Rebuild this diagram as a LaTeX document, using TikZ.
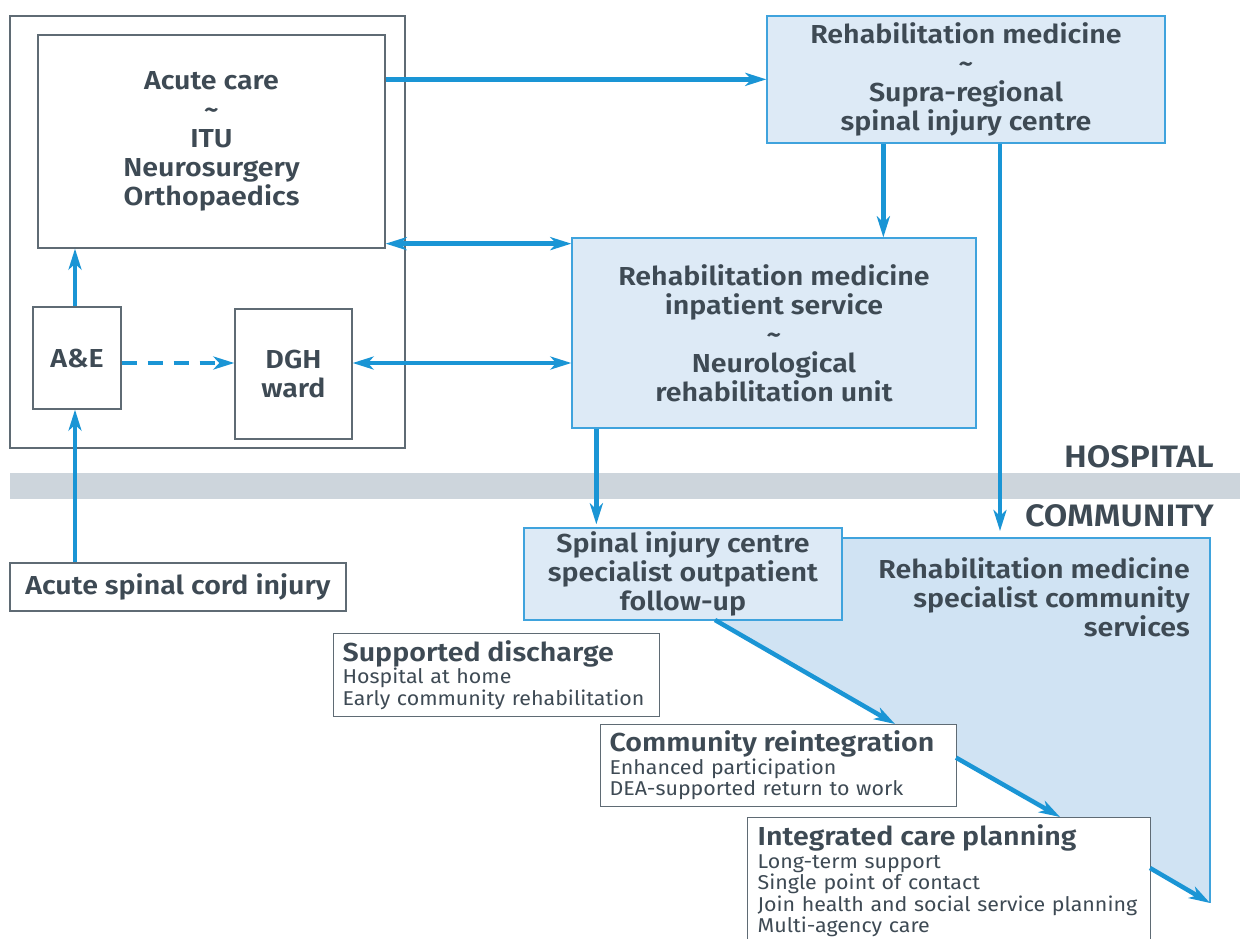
\documentclass[tikz,border=0pt]{standalone}
\usepackage{fontspec}
\setmainfont{Fira Sans}[BoldFont={* SemiBold}, FakeStretch=1.1]
\newfontfamily\listfont{Fira Sans}[FakeStretch=1.07]
\usetikzlibrary{arrows.meta}
\definecolor{arr}{RGB}{26,149,213}
\definecolor{txt}{RGB}{62,74,84}
\definecolor{boxgray}{RGB}{95,107,116}
\definecolor{lightb}{RGB}{221,234,246}
\definecolor{polyb}{RGB}{208,227,243}
\definecolor{bboxc}{RGB}{63,163,221}
\definecolor{band}{RGB}{205,213,220}
\newcommand{\ltitle}[1]{{\rmfamily\bfseries\fontsize{26}{26}\selectfont #1}}
\begin{document}
\begin{tikzpicture}[x=1pt,y=-1pt,
  graybox/.style={draw=boxgray, line width=1.3pt, fill=white, inner sep=0pt, align=center, text=txt, font=\bfseries\fontsize{26}{29}\selectfont},
  bluebox/.style={graybox, draw=bboxc, fill=lightb},
  listbox/.style={draw=boxgray, line width=1.3pt, fill=white, align=left, anchor=north west, inner xsep=9pt, inner ysep=0pt, text=txt, font=\listfont\fontsize{20}{21.5}\selectfont},
  tip/.tip={Stealth[length=21pt,width=13pt,inset=6pt]},
  conn/.style={draw=arr, line width=4.5pt, -tip},
  dconn/.style={draw=arr, line width=4.5pt, tip-tip},
  lbl/.style={text=txt, font=\bfseries\fontsize{31}{34}\selectfont, inner sep=0pt, anchor=east}
]
\useasboundingbox (0,0) rectangle (1240,938);
% hospital frame
\node[draw=boxgray, line width=1.3pt, minimum width=395pt, minimum height=432pt, inner sep=0pt] (hosp) at (207.5,232) {};
% band
\node[fill=band, minimum width=1230pt, minimum height=26pt, inner sep=0pt] (bandn) at (625,486) {};
\node[lbl] (hlbl) at (1214,457) {HOSPITAL};
\node[lbl] (clbl) at (1214,516) {COMMUNITY};
% community polygon
\fill[polyb] (712,620) -- (712,538) -- (1210,538) -- (1210,903) -- cycle;
\draw[bboxc, line width=1.3pt] (842,538) -- (1210,538) -- (1210,903);
\node[align=right, text=txt, font=\bfseries\fontsize{26}{29}\selectfont, inner sep=0pt, anchor=east] (commtxt) at (1190,597) {Rehabilitation medicine\\specialist community\\services};
% boxes
\node[graybox, minimum width=347pt, minimum height=213pt] (acute) at (211.5,141.5) {Acute care\\\textasciitilde\\ITU\\Neurosurgery\\Orthopaedics};
\node[graybox, minimum width=88pt, minimum height=102pt] (ae) at (77,358) {A\&E};
\node[graybox, minimum width=117pt, minimum height=130pt] (dgh) at (293.5,374) {DGH\\ward};
\node[graybox, minimum width=336pt, minimum height=48pt] (sci) at (178,587) {Acute spinal cord injury};
\node[bluebox, minimum width=398pt, minimum height=127pt] (rtop) at (966,79.5) {Rehabilitation medicine\\\textasciitilde\\Supra-regional\\spinal injury centre};
\node[bluebox, minimum width=404pt, minimum height=190pt] (inp) at (774,333) {Rehabilitation medicine\\inpatient service\\\textasciitilde\\Neurological\\rehabilitation unit};
\node[bluebox, minimum width=318pt, minimum height=92pt] (out) at (683,574) {Spinal injury centre\\specialist outpatient\\follow-up};
\node[listbox, text width=308pt, minimum height=83pt] (sup) at (333,633) {\ltitle{Supported discharge}\\[1pt]\mbox{Hospital at home}\\\mbox{Early community rehabilitation}};
\node[listbox, text width=338pt, minimum height=82pt] (reint) at (600,724) {\ltitle{Community reintegration}\\[1pt]\mbox{Enhanced participation}\\\mbox{DEA-supported return to work}};
\node[listbox, inner xsep=10pt, text width=383pt, minimum height=127pt] (integ) at (747,817) {\ltitle{Integrated care planning}\\[1pt]\mbox{Long-term support}\\\mbox{Single point of contact}\\\mbox{Join health and social service planning}\\\mbox{Multi-agency care}};
% connectors
\draw[conn] (acute.north east) ++(0,45) coordinate (a1) -- (a1 -| rtop.west);
\draw[dconn] ([yshift=5pt]acute.south east) coordinate (a2) -- (a2 -| inp.west);
\draw[dconn] ([yshift=11pt]dgh.east) coordinate (a3) -- (a3 -| inp.west);
\draw[conn] ([xshift=-2pt]ae.north) coordinate (a4) -- (a4 |- acute.south);
\draw[conn, dash pattern=on 15pt off 11pt] ([yshift=-5pt]ae.east) coordinate (a5) -- (a5 -| dgh.west);
\draw[conn] ([xshift=-2pt]ae.south |- sci.north) coordinate (a6) -- (a6 |- ae.south);
\draw[conn] ([xshift=117pt]rtop.south west) coordinate (a7) -- (a7 |- inp.north);
\coordinate (cin) at (1000,531);
\draw[conn] (rtop.south west -| cin) -- (cin);
\draw[conn] ([xshift=25pt]inp.south west) coordinate (a8) -- ([yshift=3pt]a8 |- out.north);
% diagonal
\coordinate (d0) at (715,620);
\coordinate (d1) at (895,724);
\coordinate (d2) at (956,757.6);
\coordinate (d3) at (1060,817);
\coordinate (d4) at (1150,868);
\coordinate (d5) at (1210,903);
\draw[conn] (d0) -- (d1);
\draw[conn] (d2) -- (d3);
\draw[conn] (d4) -- (d5);
\end{tikzpicture}
\end{document}
